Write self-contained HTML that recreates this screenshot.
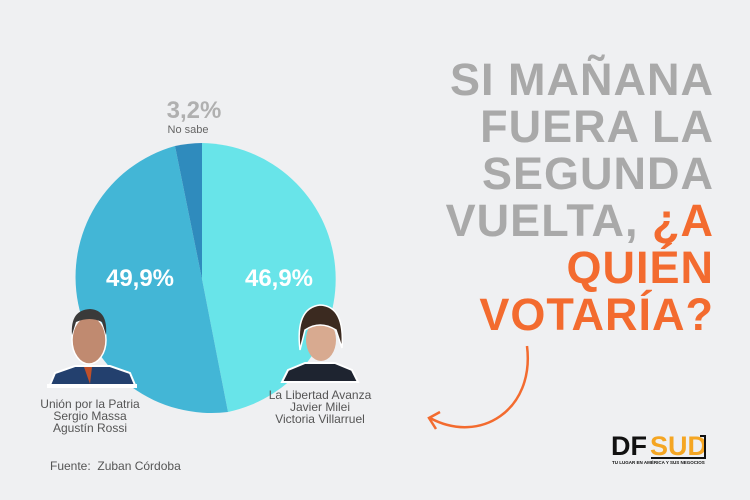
<!DOCTYPE html>
<html><head><meta charset="utf-8"><style>
body{margin:0;width:750px;height:500px;background:#eff0f2;position:relative;overflow:hidden;font-family:"Liberation Sans",sans-serif}
.t{position:absolute;right:36px;top:56px;text-align:right;font-weight:bold;font-size:45px;line-height:47px;color:#a9a9a9;letter-spacing:1px}
.o{color:#f36b2f}
.l{position:absolute;color:#555;font-size:12px;text-align:center;line-height:12px}
</style></head><body>
<svg width="750" height="500" style="position:absolute;left:0;top:0">
<path d="M202,279 L202,143 A136,136 0 0 1 228,412 Z" fill="#68e4e9"/>
<path d="M202,279 L228,412 A136,136 0 0 1 175,146 Z" fill="#43b6d6"/>
<path d="M202,279 L175,146 A136,136 0 0 1 202,143 Z" fill="#2f8bbd"/>
<text x="140" y="286" font-size="24" font-weight="bold" fill="#fff" text-anchor="middle" font-family="Liberation Sans">49,9%</text>
<text x="279" y="286" font-size="24" font-weight="bold" fill="#fff" text-anchor="middle" font-family="Liberation Sans">46,9%</text>
<text x="194" y="118" font-size="24" font-weight="bold" fill="#b0b0b0" text-anchor="middle" font-family="Liberation Sans">3,2%</text>
<text x="188" y="133" font-size="11" fill="#666" text-anchor="middle" font-family="Liberation Sans">No sabe</text>
<!-- Massa -->
<path d="M50,385 L55,373 L75,366 L110,366 L130,373 L135,385Z" fill="#23406e" stroke="#fff" stroke-width="2"/>
<rect x="47" y="384" width="90" height="4" fill="#fff"/>
<ellipse cx="89" cy="340" rx="17" ry="24" fill="#c08a70" stroke="#fff" stroke-width="1.5"/>
<path d="M72,335 Q70,310 90,309 Q108,310 106,335 L102,322 Q90,316 76,322Z" fill="#3a3a3a"/>
<path d="M84,367 L92,367 L90,384Z" fill="#c0502a"/>
<!-- Milei -->
<path d="M282,382 L288,370 L305,363 L335,363 L352,370 L358,382Z" fill="#1e2430" stroke="#fff" stroke-width="2"/>
<ellipse cx="321" cy="340" rx="15" ry="21" fill="#d8aa90"/>
<path d="M300,350 Q295,308 320,305 Q345,306 342,348 L336,330 Q320,320 305,330Z" fill="#3b2a20" stroke="#fff" stroke-width="1.5"/>
<!-- arrow -->
<path d="M527,346 C535,410 480,445 430,418" stroke="#f36b2f" stroke-width="2.5" fill="none"/>
<path d="M440,412 L429,418 L436,429" stroke="#f36b2f" stroke-width="2.5" fill="none"/>
<!-- logo -->
<text x="611" y="455" font-size="27" font-weight="bold" fill="#111" font-family="Liberation Sans">DF</text>
<text x="650" y="455" font-size="27" font-weight="bold" fill="#f5a623" font-family="Liberation Sans">SUD</text>
<path d="M700,436 L705,436 L705,458 L651,458" stroke="#111" stroke-width="2" fill="none"/>
<text x="612" y="464" font-size="4.5" font-weight="bold" fill="#111" font-family="Liberation Sans">TU LUGAR EN AMÉRICA Y SUS NEGOCIOS</text>
</svg>
<div class="t">SI MAÑANA<br>FUERA LA<br>SEGUNDA<br>VUELTA, <span class="o">¿A<br>QUIÉN<br>VOTARÍA?</span></div>
<div class="l" style="left:30px;top:398px;width:120px">Unión por la Patria<br>Sergio Massa<br>Agustín Rossi</div>
<div class="l" style="left:260px;top:389px;width:120px">La Libertad Avanza<br>Javier Milei<br>Victoria Villarruel</div>
<div class="l" style="left:50px;top:460px;font-size:12px;text-align:left">Fuente:&nbsp; Zuban Córdoba</div>
</body></html>
